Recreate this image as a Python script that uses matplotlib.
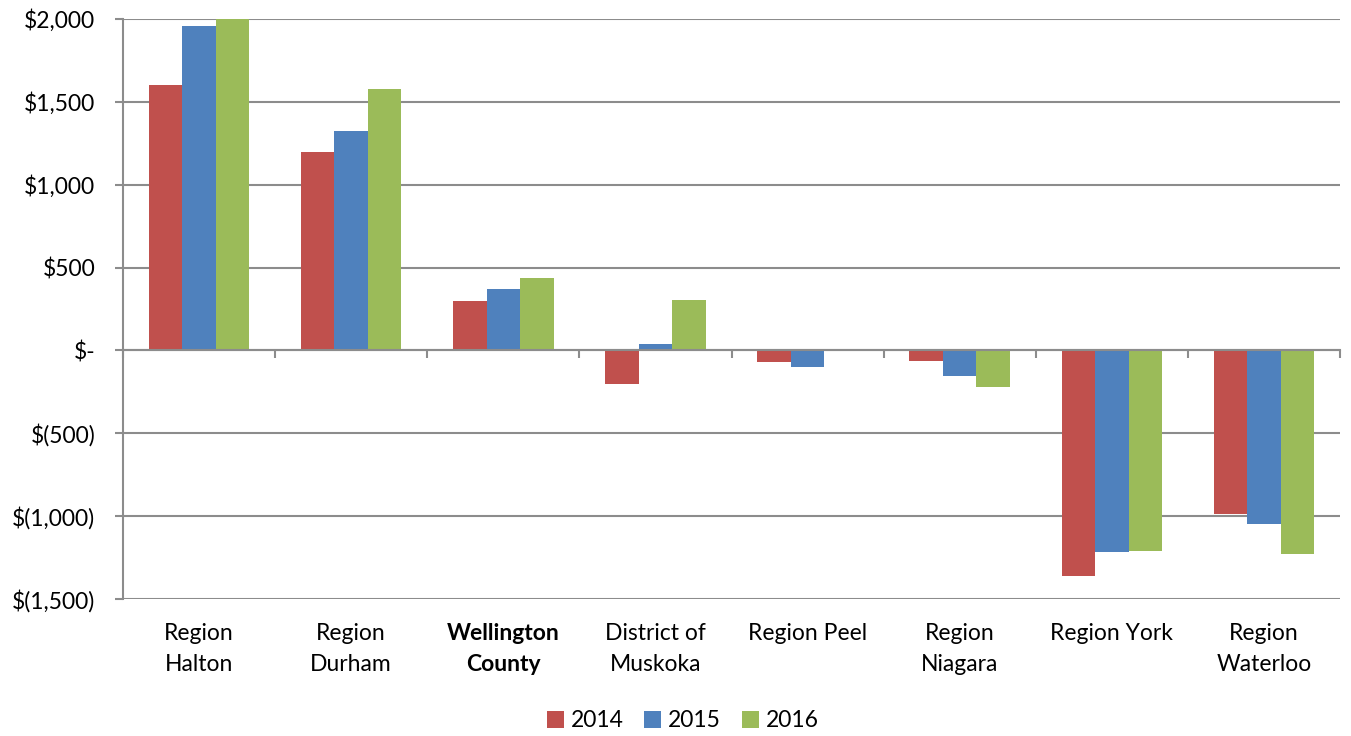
import numpy as np
import matplotlib.pyplot as plt
from matplotlib.ticker import FuncFormatter
import matplotlib.transforms as mtransforms

plt.rcParams['font.family'] = ['Lato', 'DejaVu Sans']

regions = ['Region\nHalton', 'Region\nDurham', 'Wellington\nCounty', 'District of\nMuskoka',
           'Region Peel', 'Region\nNiagara', 'Region York', 'Region\nWaterloo']
years = ['2014', '2015', '2016']
vals_2014 = [1600, 1200, 300, -203, -68, -65, -1362, -987]
vals_2015 = [1960, 1325, 370, 38, -101, -155, -1215, -1045]
vals_2016 = [2000, 1575, 440, 302, -4, -223, -1208, -1229]
colors = ['#C0504D', '#4F81BD', '#9BBB59']

fig = plt.figure(figsize=(13.51, 7.36), dpi=100)
ax = fig.add_axes([123 / 1351, 1 - 599 / 736, 1217 / 1351, 580 / 736])

x = np.arange(len(regions))
w = 0.22
for i, (vals, yr) in enumerate(zip([vals_2014, vals_2015, vals_2016], years)):
    ax.bar(x + (i - 1) * w, vals, w, color=colors[i], label=yr, zorder=3)

ax.set_xlim(-0.5, len(regions) - 0.5)
ax.set_ylim(-1500, 2000)
ax.set_yticks(np.arange(-1500, 2001, 500))


def money(v, pos):
    v = int(round(v))
    if v == 0:
        return '$-'
    if v < 0:
        return f'$({-v:,})'
    return f'${v:,}'


ax.yaxis.set_major_formatter(FuncFormatter(money))
ax.grid(axis='y', color='#8c8c8c', linewidth=1.5, zorder=0)
ax.tick_params(axis='y', length=6, width=1.5, color='#8c8c8c', labelsize=16.5, pad=14)

for s in ['top', 'right']:
    ax.spines[s].set_visible(False)
ax.spines['left'].set_color('#8c8c8c')
ax.spines['left'].set_linewidth(1.5)
ax.spines['bottom'].set_position(('data', 0))
ax.spines['bottom'].set_color('#8c8c8c')
ax.spines['bottom'].set_linewidth(1.5)
ax.spines['bottom'].set_zorder(4)
ax.set_xticks(np.arange(-0.5, len(regions), 1.0))
ax.set_xticklabels([])
ax.tick_params(axis='x', length=6, width=1.5, color='#8c8c8c', direction='out')

trans = mtransforms.blended_transform_factory(ax.transData, ax.transAxes)
for xi, name in zip(x, regions):
    ax.text(xi, -0.042, name, transform=trans, ha='center', va='top', fontsize=16.5,
            linespacing=1.55, fontweight='bold' if 'Wellington' in name else 'normal')

leg = ax.legend(loc='upper center', bbox_to_anchor=(0.46, -0.168), ncol=3, frameon=False,
                fontsize=16.5, handlelength=0.75, handleheight=0.75, handletextpad=0.3,
                columnspacing=0.9, borderaxespad=0.2)

fig.savefig('out.png', dpi=100)
